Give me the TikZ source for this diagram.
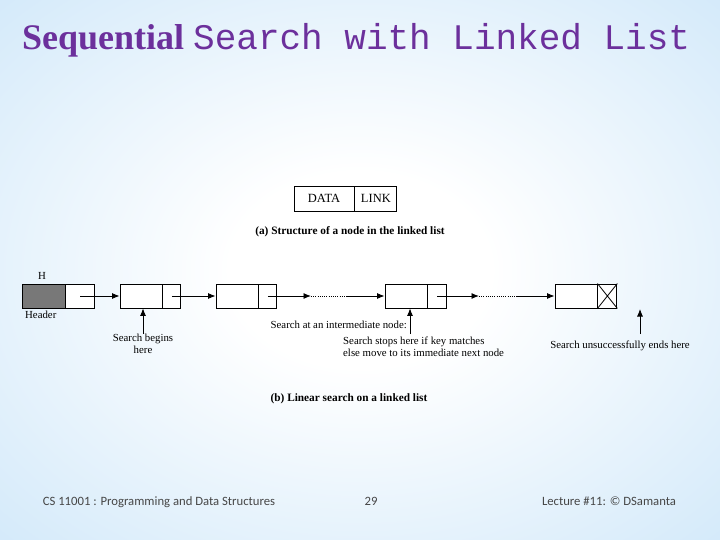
\documentclass[tikz,border=0pt]{standalone}
\usepackage{fontspec}
\setmainfont{Liberation Serif}
\newfontfamily\monofont{Liberation Mono}
\newfontfamily\footfont{Carlito}
\usetikzlibrary{arrows.meta,positioning}
\definecolor{titlepurple}{RGB}{108,48,156}
\definecolor{slideblue}{RGB}{158,207,243}
\definecolor{footgray}{RGB}{70,70,70}
\definecolor{headgray}{RGB}{120,120,120}
\pgfdeclareradialshading{slidebg}{\pgfpoint{0bp}{0bp}}{color(0bp)=(white); color(9bp)=(white); color(36bp)=(slideblue!45!white); color(72bp)=(slideblue)}
\tikzset{
  datacell/.style={rectangle, draw, line width=0.9pt, fill=white,
                   minimum width=42pt, minimum height=24pt, inner sep=0pt},
  linkcell/.style={datacell, minimum width=18pt},
  link/.style={-{Latex[length=7.5pt,width=6pt]}, line width=0.9pt},
  gap/.style={line width=0.9pt, dash pattern=on 1pt off 1.2pt},
  pointer/.style={-{Latex[length=7.5pt,width=6pt]}, line width=0.8pt},
  note/.style={font=\fontsize{10.8}{12}\selectfont, inner sep=0pt},
  caption/.style={inner sep=0pt, font=\fontsize{11.3}{13}\selectfont\bfseries},
  footer/.style={font=\footfont\fontsize{12.7}{14}\selectfont, text=footgray,
                 inner sep=0pt, anchor=base}
}
\begin{document}
\begin{tikzpicture}[x=1pt, y=-1pt]
\useasboundingbox (0,0) rectangle (720,540);
\shade[shading=slidebg] (0,0) rectangle (720,540);

% --- Title ---
\node[anchor=base west, inner sep=0pt, text=titlepurple] (title) at (22,50)
  {\fontsize{36}{40}\selectfont{\bfseries Sequential}\ {\monofont Search with Linked List}};

% --- (a) Node structure ---
\node[datacell, minimum width=60pt, minimum height=25pt, font=\fontsize{12.5}{14}\selectfont] (sdata) at (324,198.5) {DATA};
\node[datacell, minimum width=42pt, minimum height=25pt, font=\fontsize{12.5}{14}\selectfont, right=0pt of sdata] (slink) {LINK};
\node[caption, anchor=base] (capa) at (350,234) {(a) Structure of a node in the linked list};

% --- (b) Linked list ---
\node[datacell, fill=headgray, minimum width=43pt] (hdata) at (43.5,296) {};
\node[datacell, minimum width=29pt, right=0pt of hdata] (hlink) {};
\node[datacell] (n1d) at (141,296) {};
\node[linkcell, right=0pt of n1d] (n1l) {};
\node[datacell] (n2d) at (237,296) {};
\node[linkcell, right=0pt of n2d] (n2l) {};
\node[datacell] (n3d) at (406,296) {};
\node[linkcell, minimum width=19pt, right=0pt of n3d] (n3l) {};
\node[datacell] (n4d) at (576,296) {};
\node[linkcell, minimum width=19pt, right=0pt of n4d] (n4l) {};

\coordinate (gapAin) at (311,296);
\coordinate (gapAout) at (347,296);
\coordinate (gapBin) at (479,296);
\coordinate (gapBout) at (516,296);

% --- Links ---
\draw[link] (hlink.center) -- (n1d.west);
\draw[link] (n1l.center) -- (n2d.west);
\draw[link] (n2l.center) -- (gapAin);
\draw[gap] (gapAin) -- (gapAout);
\draw[link] (gapAout) -- (n3d.west);
\draw[link] (n3l.center) -- (gapBin);
\draw[gap] (gapBin) -- (gapBout);
\draw[link] (gapBout) -- (n4d.west);
\draw[line width=0.8pt] (n4l.north west) -- (n4l.south east)
                        (n4l.south west) -- (n4l.north east);

% --- Labels ---
\node[note] (hname) at (42,276) {H};
\node[note, anchor=west] (hlabel) at (25,315) {Header};

\node[note, align=center, anchor=north] (begins) at (143,334) {Search begins\\here};
\draw[pointer] (begins.north) -- (begins.north |- n1d.south);

\node[note, anchor=base east] (midtext) at (407,328) {Search at an intermediate node:};
\coordinate (midfoot) at (410,334);
\draw[pointer] (midfoot) -- (midfoot |- n3d.south);
\node[note, anchor=north west, align=left] (stoptext) at (343,337)
  {Search stops here if key matches\\else move to its immediate next node};

\coordinate (endfoot) at (640,334);
\coordinate (endtip) at (640,309);
\draw[pointer] (endfoot) -- (endtip);
\node[note, anchor=base] (endtext) at (620,348) {Search unsuccessfully ends here};

\node[caption, anchor=base] (capb) at (349,401) {(b) Linear search on a linked list};

% --- Footer ---
\node[footer] (course) at (159,505) {CS 11001 : Programming and Data Structures};
\node[footer] (page) at (371,505) {29};
\node[footer] (lecture) at (609,505) {Lecture \#11: © DSamanta};

\end{tikzpicture}
\end{document}
